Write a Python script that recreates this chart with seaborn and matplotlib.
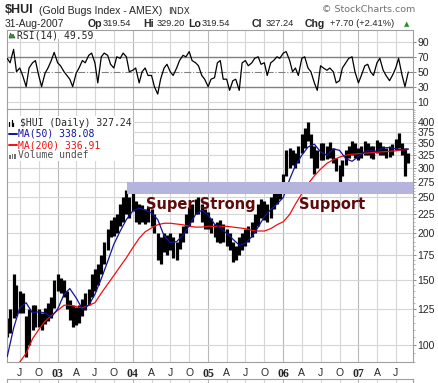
import numpy as np
import pandas as pd
import matplotlib
matplotlib.use("Agg")
import matplotlib.pyplot as plt
import matplotlib.dates as mdates
from matplotlib.ticker import FixedLocator, NullFormatter
from matplotlib.patches import Rectangle, Polygon
from matplotlib.lines import Line2D
import seaborn as sns

# ---- values (semi-monthly high / low, monthly MAs) ----
bar_dates = list(pd.date_range("2002-05-01", "2007-08-15", freq="SMS")) + [pd.Timestamp("2007-08-31")]
price_hi = [118, 125, 155, 145, 140, 138, 120, 125, 128, 128,
            125, 122, 126, 130, 135, 150, 155, 152, 150, 140,
            132, 128, 127, 128, 133, 138, 142, 155, 160, 165,
            175, 190, 205, 218, 222, 225, 240, 250, 262, 250,
            260, 245, 240, 238, 232, 235, 232, 225, 200, 195,
            200, 198, 200, 195, 190, 200, 210, 225, 235, 240,
            248, 250, 240, 232, 228, 220, 212, 215, 218, 212,
            205, 200, 190, 185, 195, 200, 205, 210, 215, 225,
            240, 247, 245, 240, 250, 258, 262, 268, 290, 335,
            340, 335, 330, 345, 370, 385, 400, 370, 345, 335,
            350, 350, 345, 352, 340, 320, 305, 315, 335, 345,
            355, 350, 340, 345, 355, 350, 345, 345, 358, 352,
            345, 340, 345, 348, 360, 372, 350, 340, 330]
price_lo = [105, 108, 118, 120, 122, 122, 93, 100, 110, 112,
            112, 110, 114, 116, 118, 126, 140, 138, 135, 125,
            117, 112, 113, 115, 120, 124, 128, 135, 140, 145,
            155, 165, 180, 195, 197, 200, 210, 215, 225, 220,
            230, 215, 212, 215, 212, 215, 210, 200, 170, 165,
            178, 175, 180, 172, 170, 182, 190, 200, 210, 215,
            225, 225, 215, 205, 205, 200, 195, 190, 189, 190,
            185, 180, 167, 170, 175, 180, 185, 190, 195, 200,
            210, 220, 218, 215, 220, 232, 240, 248, 260, 285,
            300, 305, 300, 310, 330, 340, 355, 320, 290, 300,
            315, 315, 318, 320, 310, 295, 275, 285, 305, 320,
            325, 320, 315, 320, 325, 325, 320, 318, 330, 325,
            325, 320, 322, 325, 335, 340, 325, 285, 310]
rsi = [68, 62, 80, 50, 55, 45, 30, 55, 62, 65,
       45, 30, 48, 55, 65, 76, 62, 58, 50, 45,
       40, 30, 48, 55, 65, 62, 72, 75, 62, 35,
       70, 75, 72, 60, 55, 70, 68, 75, 70, 50,
       52, 55, 35, 50, 55, 45, 45, 30, 20, 40,
       55, 60, 50, 45, 55, 65, 72, 70, 77, 65,
       62, 58, 45, 40, 30, 40, 42, 62, 65, 40,
       40, 25, 38, 40, 25, 62, 65, 58, 62, 68,
       70, 60, 62, 45, 62, 65, 70, 68, 75, 77,
       65, 50, 55, 45, 68, 70, 55, 50, 35, 25,
       58, 55, 52, 55, 50, 35, 38, 55, 62, 68,
       70, 50, 35, 45, 58, 60, 50, 45, 62, 68,
       52, 45, 38, 45, 55, 68, 45, 30, 49.59]

ma_dates = list(pd.date_range("2002-05-01", "2007-08-01", freq="MS")) + [pd.Timestamp("2007-08-31")]
ma50 = [93, 111, 126, 130, 122, 123, 122, 119, 125, 137,
        142, 134, 125, 128, 137, 151, 168, 187, 203, 218,
        230, 234, 231, 227, 218, 197, 189, 190, 198, 210,
        225, 231, 224, 212, 207, 200, 193, 186, 188, 196,
        208, 222, 232, 240, 250, 280, 305, 325, 342, 348,
        332, 325, 338, 335, 318, 313, 322, 333, 334, 333,
        340, 341, 338, 336, 338.08]
ma200 = [82, 86, 90, 95, 104, 110, 116, 120, 124, 128,
         128, 127, 126, 128, 130, 138, 146, 154, 163, 172,
         183, 194, 202, 207, 211, 213, 213, 212, 211, 209,
         208, 208, 209, 209, 209, 209, 208, 207, 206, 204,
         203, 203, 206, 211, 215, 225, 240, 256, 272, 286,
         298, 309, 316, 321, 325, 327, 328, 329, 330, 331,
         332, 333, 334, 336, 336.91]

price_ticks = [100, 125, 150, 175, 200, 225, 250, 275, 300, 325, 350, 375, 400]
rsi_ticks = [10, 30, 50, 70, 90]
quarter_dates = pd.date_range("2002-07-01", "2007-07-01", freq="QS-JAN")
quarter_labels = ["J", "O", "03", "A", "J", "O", "04", "A", "J", "O", "05",
                  "A", "J", "O", "06", "A", "J", "O", "07", "A", "J"]
support_lo, support_hi = 255, 275
support_start = "2003-12-03"

# ---- figure ----
sns.set_style("white")
plt.rcParams["font.family"] = ["DejaVu Sans"]

W, H = 439, 383
fig = plt.figure(figsize=(W / 100, H / 100), dpi=100)


def box(x0, y0, x1, y1):
    return [x0 / W, 1 - y1 / H, (x1 - x0) / W, (y1 - y0) / H]


def px(x, y):
    return x / W, 1 - y / H


def num(d):
    return mdates.date2num(pd.DatetimeIndex(d).to_pydatetime())


bx = num(bar_dates)
mx = num(ma_dates)
qx = num(quarter_dates)
xlim = num([pd.Timestamp("2002-04-30"), pd.Timestamp("2007-09-23")])

ax_rsi = fig.add_axes(box(7, 30, 413, 109))
ax = fig.add_axes(box(7, 109, 413, 362))
ax_vol = fig.add_axes(box(7, 379, 413, 395))

spine_c = "#a0a0a0"
for a in (ax_rsi, ax, ax_vol):
    a.set_xlim(*xlim)
    for s in a.spines.values():
        s.set_color(spine_c)
        s.set_linewidth(0.8)
    for d, lab in zip(qx, quarter_labels):
        a.axvline(d, color="#b8b8b8" if lab.isdigit() else "#d6d6d6", lw=0.8, zorder=0)

# ---- RSI panel ----
ax_rsi.set_ylim(0, 106)
for v in (10, 90):
    ax_rsi.axhline(v, color="#d6d6d6", lw=0.8, zorder=0)
for v in (30, 70):
    ax_rsi.axhline(v, color="#808080", lw=1.0, zorder=1)
ax_rsi.axhline(50, color="#808080", lw=0.8, ls="-.", zorder=1)
sns.lineplot(x=bx, y=rsi, ax=ax_rsi, color="black", lw=0.9, zorder=3)
ax_rsi.yaxis.tick_right()
ax_rsi.set_yticks(rsi_ticks)
ax_rsi.set_yticklabels([str(v) for v in rsi_ticks])
ax_rsi.set_xticks(qx)
ax_rsi.tick_params(axis="x", length=0, labelbottom=False)
ax_rsi.tick_params(axis="y", length=2.5, width=0.6, color="#777777", pad=0.8, labelsize=7.5)
ax_rsi.set_xlabel("")
ax_rsi.set_ylabel("")

# ---- price panel ----
ax.set_yscale("log")
ax.set_ylim(90, 433)
for v in price_ticks:
    ax.axhline(v, color="#d6d6d6", lw=0.8, zorder=0)
ax.vlines(bx, price_lo, price_hi, color="black", lw=2.3, zorder=2)
sns.lineplot(x=mx, y=ma200, ax=ax, color="#f01010", lw=0.9, zorder=3)
sns.lineplot(x=mx, y=ma50, ax=ax, color="#12129a", lw=0.9, zorder=4)
x_start = (num([pd.Timestamp(support_start)])[0] - xlim[0]) / (xlim[1] - xlim[0])
ax.axhspan(support_lo, support_hi, xmin=x_start, xmax=1, color="#b4b4dc", zorder=6, lw=0)
ax.yaxis.tick_right()
ax.set_yticks(price_ticks)
ax.set_yticklabels([str(v) for v in price_ticks])
ax.yaxis.set_minor_locator(FixedLocator(list(range(90, 435, 5))))
ax.yaxis.set_minor_formatter(NullFormatter())
ax.tick_params(axis="y", which="major", length=2.5, width=0.6, color="#777777", pad=0.8, labelsize=7.5)
ax.tick_params(axis="y", which="minor", length=1.2, width=0.5, color="#999999")
ax.set_xticks(qx)
ax.set_xticklabels(quarter_labels)
ax.tick_params(axis="x", length=0, pad=4.5, labelsize=7.5)
ax.set_xlabel("")
ax.set_ylabel("")
for lbl in ax.get_xticklabels():
    if lbl.get_text().isdigit():
        lbl.set_fontfamily("Liberation Serif")
        lbl.set_fontweight("bold")
        lbl.set_fontsize(8.5)
    else:
        lbl.set_fontfamily("Liberation Sans")
for a in (ax, ax_rsi):
    for lbl in a.get_yticklabels():
        lbl.set_fontfamily("Liberation Sans")

fig.text(*px(146, 204), "Super Strong", fontsize=10.5, fontweight="bold", color="#5e0b0b", va="center")
fig.text(*px(299, 204), "Support", fontsize=10.5, fontweight="bold", color="#5e0b0b", va="center")

# ---- volume stub panel ----
ax_vol.set_yticks([])
ax_vol.set_xticks(qx)
ax_vol.tick_params(axis="x", length=0, labelbottom=False)

# ---- header ----
fig.text(*px(5, 10), "$HUI", fontsize=9, fontweight="bold", family="Liberation Sans", va="center")
fig.text(*px(39, 10.5), "(Gold Bugs Index - AMEX)", family="Liberation Sans", va="center", fontsize=7.6)
fig.text(*px(168, 11), "INDX", family="DejaVu Sans", va="center", fontsize=6.3)
fig.text(*px(322, 10), "\u00a9 StockCharts.com", family="DejaVu Sans", va="center", fontsize=6.8, color="#707070")
fig.text(*px(5, 24), "31-Aug-2007", family="Liberation Sans", va="center", fontsize=7.4)
for x, s, bold in [(88, "Op", True), (103, "319.54", False), (143, "Hi", True), (157, "329.20", False),
                   (188, "Lo", True), (202, "319.54", False), (252, "Cl", True), (266, "327.24", False),
                   (305, "Chg", True), (330, "+7.70 (+2.41%)", False)]:
    fig.text(*px(x, 24), s, fontweight="bold" if bold else "normal",
             fontsize=7.6 if bold else 6.7, family="Liberation Sans", va="center")
fig.text(*px(404, 24.5), "\u25b2", fontsize=5, color="#2e8b2e", va="center")

# ---- panel legends ----
fig.add_artist(Rectangle(px(8, 39), 93 / W, 8.5 / H, transform=fig.transFigure,
                         facecolor="white", edgecolor="none", zorder=2))
fig.add_artist(Polygon([px(9, 38), px(10.5, 33), px(12, 36), px(13, 34), px(15, 38)], closed=True,
                       transform=fig.transFigure, facecolor="#4a8a4a", edgecolor="#2d5a2d", lw=0.5, zorder=3))
mono = dict(family="DejaVu Sans Mono", va="center", fontsize=7)
fig.text(*px(17, 35), "RSI(14) 49.59", zorder=4, **mono)

fig.add_artist(Rectangle(px(8, 161), 125 / W, 45 / H, transform=fig.transFigure,
                         facecolor="white", edgecolor="none", zorder=2))
for i, h in enumerate([4, 6, 3]):
    x = 9.5 + i * 2
    fig.add_artist(Line2D([x / W, x / W], [1 - 126 / H, 1 - (126 - h) / H], transform=fig.transFigure,
                          color="black", lw=0.9, zorder=3))
fig.text(*px(20, 122.5), "$HUI (Daily) 327.24", zorder=4, **mono)
for y, s, c in [(134, "MA(50) 338.08", "#12129a"), (145, "MA(200) 336.91", "#f01010")]:
    fig.add_artist(Line2D([9 / W, 17 / W], [1 - y / H] * 2, transform=fig.transFigure, color=c, lw=1.4, zorder=3))
    fig.text(*px(18, y), s, color=c, zorder=4, **mono)
for i, h in enumerate([3, 5, 4]):
    fig.add_artist(Rectangle(px(9 + i * 2.5, 158.5), 1.8 / W, h / H, transform=fig.transFigure,
                             facecolor="#707070", edgecolor="none", zorder=3))
fig.text(*px(18, 155.5), "Volume undef", color="#505050", zorder=4, **mono)

fig.savefig("out.png", dpi=100)
